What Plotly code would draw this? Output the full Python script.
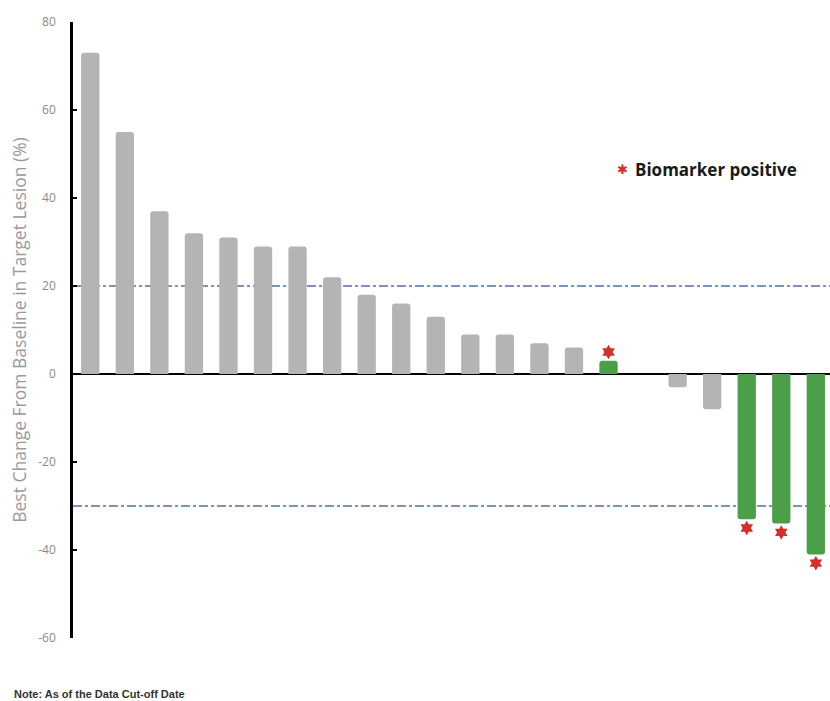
import plotly.graph_objects as go

patients = list(range(1, 23))
best_change = [73, 55, 37, 32, 31, 29, 29, 22, 18, 16, 13, 9, 9, 7, 6, 3, None, -3, -8, -33, -34, -41]
biomarker_pos = [0, 0, 0, 0, 0, 0, 0, 0, 0, 0, 0, 0, 0, 0, 0, 1, 0, 0, 0, 1, 1, 1]
thresholds = [20, -30]
y_tickvals = [-60, -40, -20, 0, 20, 40, 60, 80]
y_ticktext = ["-60", "-40", "-20", "0", "20", "40", "60", "80"]

GRAY = "#b4b4b4"
GREEN = "#4a9f48"
RED = "#d3302b"

colors = [GREEN if b else GRAY for b in biomarker_pos]

fig = go.Figure()
fig.add_trace(go.Bar(
    x=patients, y=best_change, marker_color=colors, width=0.53,
    marker_line_width=0, showlegend=False, hoverinfo="x+y",
))

# biomarker stars beyond bar ends
sx, sy = [], []
for p, v, b in zip(patients, best_change, biomarker_pos):
    if b and v is not None:
        sx.append(p)
        sy.append(v + 2 if v >= 0 else v - 2)
fig.add_trace(go.Scatter(
    x=sx, y=sy, mode="markers",
    marker=dict(symbol="hexagram", size=11, color=RED, line=dict(width=0)),
    showlegend=False, hoverinfo="skip",
))

for t in thresholds:
    fig.add_hline(y=t, line=dict(color="#4c70aa", width=1.4, dash="dashdot"), layer="below")

fig.update_layout(
    width=830, height=701,
    margin=dict(l=73, r=0, t=22, b=63),
    plot_bgcolor="white", paper_bgcolor="white",
    barcornerradius=3,
    xaxis=dict(range=[0.5, 22.41], showticklabels=False, showgrid=False,
               zeroline=False, showline=False, ticks=""),
    yaxis=dict(range=[-60, 80], tickvals=y_tickvals, ticktext=y_ticktext, showgrid=False,
               showline=True, linecolor="black", linewidth=2.5,
               ticks="inside", ticklen=4, tickwidth=2, tickcolor="black",
               ticklabelstandoff=12,
               zeroline=True, zerolinecolor="black", zerolinewidth=2,
               tickfont=dict(family="Open Sans", size=12, color="#8a8a8a"),
               title=dict(text="Best Change From Baseline in Target Lesion (%)",
                          font=dict(family="Open Sans", size=17.5, color="#9a9a9a"),
                          standoff=8)),
    font=dict(family="Open Sans"),
)

fig.add_annotation(xref="paper", yref="paper", x=(622 - 73) / 757, y=(701 - 63 - 169) / 616,
                   text="<span style='color:%s'>✱</span>" % RED, showarrow=False,
                   font=dict(size=13), xanchor="center", yanchor="middle")
fig.add_annotation(xref="paper", yref="paper", x=(633 - 73) / 757, y=(701 - 63 - 169) / 616,
                   text="<b>Biomarker positive</b>", showarrow=False,
                   font=dict(family="Open Sans", size=17, color="#1a1a1a"),
                   xanchor="left", yanchor="middle")
fig.add_annotation(xref="paper", yref="paper", x=(12 - 73) / 757, y=-(694 - 638) / 616,
                   text="<b>Note: As of the Data Cut-off Date</b>", showarrow=False,
                   font=dict(family="Liberation Sans", size=11, color="#333333"),
                   xanchor="left", yanchor="middle")

fig.write_html("out.html")
